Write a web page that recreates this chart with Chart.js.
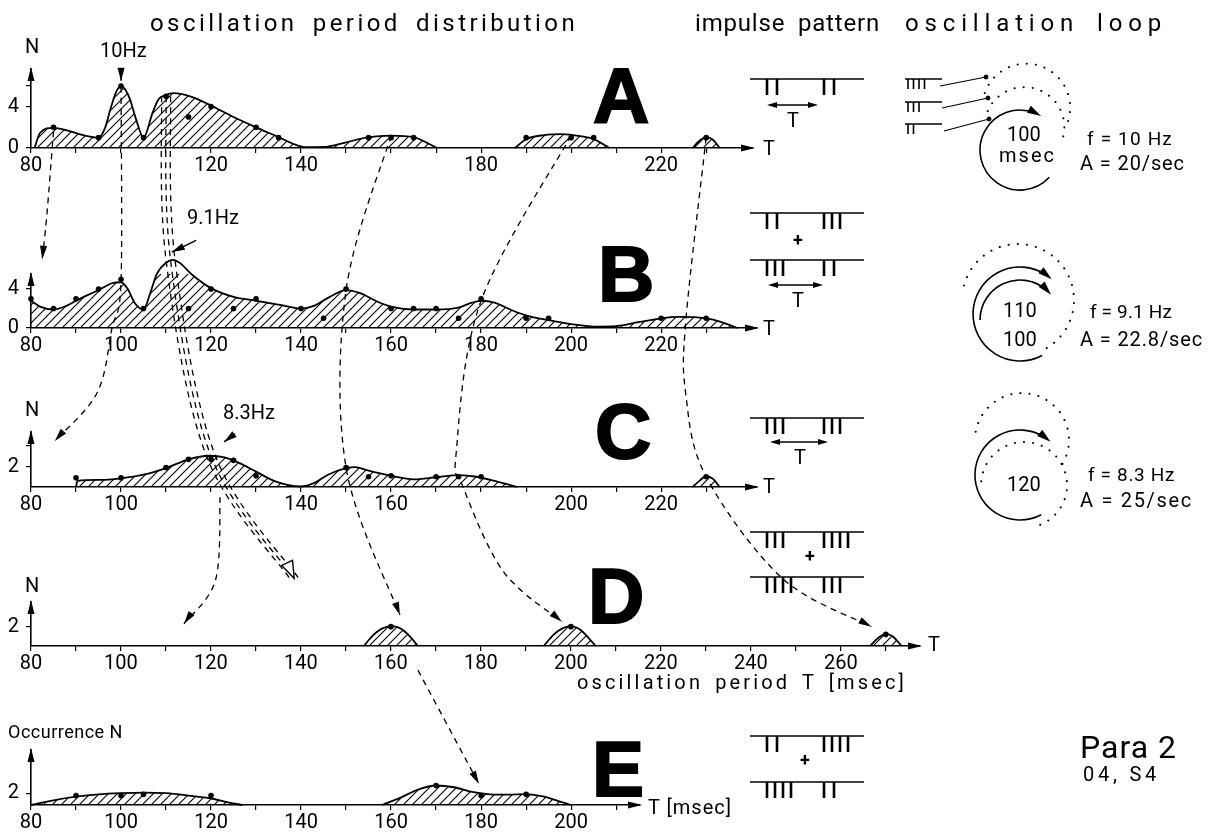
<!DOCTYPE html>
<html>
<head>
<meta charset="utf-8">
<title>oscillation period distribution</title>
<script src="https://cdn.jsdelivr.net/npm/chart.js@4/dist/chart.umd.min.js"></script>
<style>
  html, body { margin: 0; padding: 0; background: #fff; }
  body { position: relative; width: 1209px; height: 834px; overflow: hidden; font-family: Roboto, "DejaVu Sans", sans-serif; color: #000; }
  canvas.panel { position: absolute; left: 0; }
  #links, #sketch { position: absolute; left: 0; top: 0; pointer-events: none; }
  .t { position: absolute; white-space: nowrap; line-height: 1; font-size: 20px; }
  .h { font-size: 24px; word-spacing: 6px; }
  .big { position: absolute; line-height: 1; font-family: "Liberation Sans", Arial, sans-serif; font-weight: bold; font-size: 78px; -webkit-text-stroke: 2px #000; }
</style>
</head>
<body>
<canvas id="pA" class="panel" width="800" height="130" style="top:50px"></canvas>
<canvas id="pB" class="panel" width="800" height="105" style="top:255px"></canvas>
<canvas id="pC" class="panel" width="800" height="106" style="top:413px"></canvas>
<canvas id="pD" class="panel" width="960" height="95" style="top:583px"></canvas>
<canvas id="pE" class="panel" width="700" height="106" style="top:731px"></canvas>
<svg id="sketch" width="1209" height="834"></svg>
<canvas id="links" width="1209" height="834"></canvas>

<div class="t h" data-w="428" style="left:150px;top:11px">oscillation period distribution</div>
<div class="t h" data-w="185" style="left:695px;top:11px">impulse pattern</div>
<div class="t h" data-w="262" style="left:905px;top:11px">oscillation loop</div>

<div class="t" style="left:25px;top:36px">N</div>
<div class="t" style="left:100px;top:40px">10Hz</div>
<div class="t" style="left:187px;top:207px">9.1Hz</div>
<div class="t" style="left:223px;top:402px">8.3Hz</div>
<div class="t" style="left:25px;top:399px">N</div>
<div class="t" style="left:25px;top:575px">N</div>
<div class="t" style="left:8px;top:723px;font-size:18px;letter-spacing:0.5px">Occurrence N</div>

<div class="t" style="left:763px;top:138px">T</div>
<div class="t" style="left:763px;top:318px">T</div>
<div class="t" style="left:763px;top:476px">T</div>
<div class="t" style="left:928px;top:634px">T</div>
<div class="t" style="left:648px;top:797px;letter-spacing:1px">T [msec]</div>
<div class="t" data-w="330" style="left:577px;top:672px;word-spacing:4px">oscillation period T [msec]</div>

<div class="big" style="left:593px;top:57px">A</div>
<div class="big" style="left:598px;top:235px">B</div>
<div class="big" style="left:595px;top:392px">C</div>
<div class="big" style="left:588px;top:557px">D</div>
<div class="big" style="left:592px;top:730px">E</div>

<div class="t" style="left:787px;top:110px">T</div>
<div class="t" style="left:792px;top:290px">T</div>
<div class="t" style="left:794px;top:447px">T</div>
<div class="t" style="left:793px;top:231px;font-weight:bold;font-size:18px">+</div>
<div class="t" style="left:805px;top:547px;font-weight:bold;font-size:18px">+</div>
<div class="t" style="left:800px;top:751px;font-weight:bold;font-size:18px">+</div>

<div class="t" style="left:1007px;top:124px">100</div>
<div class="t" data-w="57" style="left:999px;top:145px">msec</div>
<div class="t" data-w="86" style="left:1087px;top:129px;font-size:19px">f = 10 Hz</div>
<div class="t" data-w="105" style="left:1080px;top:153px">A = 20/sec</div>
<div class="t" style="left:1003px;top:300px">110</div>
<div class="t" style="left:1003px;top:329px">100</div>
<div class="t" data-w="82" style="left:1090px;top:302px;font-size:19px">f = 9.1 Hz</div>
<div class="t" data-w="123" style="left:1080px;top:329px">A = 22.8/sec</div>
<div class="t" style="left:1007px;top:474px">120</div>
<div class="t" data-w="87" style="left:1088px;top:465px;font-size:19px">f = 8.3 Hz</div>
<div class="t" data-w="113" style="left:1080px;top:490px">A = 25/sec</div>

<div class="t" data-w="97" style="left:1080px;top:731px;font-size:32px">Para 2</div>
<div class="t" data-w="77" style="left:1083px;top:764px">04, S4</div>

<script>
'use strict';

// ── Values (T in msec, N = occurrence) ──────────────────────────────────────

// A
const A_CURVE_T = [80.8, 82, 85, 88, 92, 95, 96.5, 97.6, 99, 100, 101, 102, 103.4, 105, 107, 108.3, 109.8, 111.6, 116, 120, 125, 130, 135, 138, 141, 145, 150, 155, 160, 165, 168, 170.2, 178, 187.5, 190, 194, 198, 202, 205, 208.5, 218, 227, 228.5, 230, 231.5, 233];
const A_CURVE_N = [0, 1.45, 1.95, 1.7, 1.2, 1.0, 2.0, 3.7, 5.5, 5.95, 5.6, 4.7, 2.7, 1.0, 3.4, 4.7, 5.1, 5.3, 4.9, 4.1, 3.0, 2.0, 1.05, 0.45, 0.08, 0.1, 0.55, 1.05, 1.2, 1.05, 0.5, 0, null, 0, 0.85, 1.25, 1.35, 1.15, 0.85, 0, null, 0, 0.7, 1.05, 0.8, 0];
const A_DOT_T = [85, 95, 100, 105, 110, 115, 120, 130, 135, 155, 160, 165, 190, 200, 205, 230];
const A_DOT_N = [2, 1, 6, 1, 5, 3, 4, 2, 1, 1, 1, 1, 1, 1, 1, 1];

// B
const B_CURVE_T = [80, 82, 85, 88, 90, 95, 98, 100, 101.5, 103, 105, 106.5, 108, 110, 111.5, 113, 116, 120, 125, 130, 135, 140, 143, 146, 150, 153, 157, 160, 165, 170, 175, 178, 180, 183, 187, 190, 195, 200, 205, 210, 215, 220, 224, 228, 231, 234, 237];
const B_CURVE_N = [2.8, 2.2, 1.9, 2.3, 2.8, 3.9, 4.6, 4.7, 4.0, 2.6, 1.9, 3.6, 5.6, 6.7, 7.0, 6.7, 5.4, 4.1, 3.2, 2.8, 2.4, 2.0, 2.3, 3.1, 3.9, 3.6, 2.7, 2.2, 1.9, 1.9, 2.1, 2.6, 2.8, 2.6, 1.8, 1.3, 0.8, 0.4, 0.15, 0.2, 0.6, 1.0, 1.15, 1.1, 0.9, 0.5, 0];
const B_DOT_T = [80, 85, 90, 95, 100, 105, 110, 115, 120, 125, 130, 140, 145, 150, 160, 165, 170, 175, 180, 190, 195, 220, 230];
const B_DOT_N = [3, 2, 3, 4, 5, 2, 7, 2, 4, 2, 3, 2, 1, 4, 2, 2, 2, 1, 3, 1, 1, 1, 1];

// C
const C_CURVE_T = [90, 90.3, 95, 100, 105, 110, 115, 119.5, 123, 126, 130, 134, 137, 140, 143, 146, 150, 152, 155, 160, 165, 170, 175, 179, 183, 188, 208, 227, 228.5, 230, 231.5, 233];
const C_CURVE_N = [0, 0.6, 0.7, 0.85, 1.2, 1.85, 2.7, 3.05, 2.9, 2.4, 1.5, 0.6, 0.2, 0.05, 0.4, 1.2, 1.85, 1.95, 1.6, 1.1, 0.75, 0.95, 1.15, 1.0, 0.6, 0, null, 0, 0.6, 1.05, 0.8, 0];
const C_DOT_T = [90, 100, 110, 115, 120, 125, 130, 150, 155, 160, 170, 175, 180, 230];
const C_DOT_N = [0.9, 0.9, 1.9, 2.7, 2.7, 2.6, 1.1, 1.9, 1.0, 1.1, 1.0, 1.0, 1.0, 1.0];

// D
const D_CURVE_T = [154, 156, 158, 160, 162, 164, 166, 180, 194, 196, 198, 200, 202, 204, 205.5, 240, 266.5, 268.5, 270, 271.5, 273.5];
const D_CURVE_N = [0, 1.1, 1.8, 2.05, 1.85, 1.1, 0, null, 0, 1.1, 1.8, 2.05, 1.7, 0.8, 0, null, 0, 0.9, 1.25, 1.0, 0];
const D_DOT_T = [160, 200, 270];
const D_DOT_N = [2, 2, 1.2];

// E
const E_CURVE_T = [80, 85, 90, 95, 100, 105, 110, 115, 120, 124, 127, 140, 158, 162, 166, 170, 174, 178, 182, 186, 190, 194, 197, 200];
const E_CURVE_N = [0, 0.8, 1.4, 1.8, 2.0, 2.1, 2.0, 1.6, 1.1, 0.4, 0, null, 0, 1.2, 2.6, 3.3, 3.0, 2.2, 1.8, 1.75, 1.85, 1.4, 0.7, 0];
const E_DOT_T = [90, 100, 105, 120, 170, 180, 190];
const E_DOT_N = [1.6, 1.6, 1.8, 1.6, 3.3, 1.6, 1.8];

// Axis ticks and labels
const T_TICKS     = [80, 90, 100, 110, 120, 130, 140, 150, 160, 170, 180, 190, 200, 210, 220, 230];
const D_T_TICKS   = [80, 90, 100, 110, 120, 130, 140, 150, 160, 170, 180, 190, 200, 210, 220, 230, 240, 250, 260, 270];
const E_T_TICKS   = [80, 90, 100, 110, 120, 130, 140, 150, 160, 170, 180, 190, 200, 210];
const A_T_LABELS  = [80, 120, 140, 180, 220];
const B_T_LABELS  = [80, 100, 120, 140, 160, 180, 200, 220];
const C_T_LABELS  = [80, 100, 140, 160, 200, 220];
const D_T_LABELS  = [80, 100, 120, 140, 160, 180, 200, 220, 240, 260];
const E_T_LABELS  = [80, 100, 120, 140, 160, 180, 200];
const A_N_TICKS = [0, 4, 6],  A_N_LABELS = [0, 4];
const B_N_TICKS = [0, 4],     B_N_LABELS = [0, 4];
const C_N_TICKS = [2, 4],     C_N_LABELS = [2];
const D_N_TICKS = [2],        D_N_LABELS = [2];
const E_N_TICKS = [2],        E_N_LABELS = [2];

// Dashed connections between peaks: [panel, T, N]
const LINKS = [
  { pts: [['A', 85, 1.6], ['B', 83.5, 11.5], ['B', 82.5, 7.1]], head: 'solid' },
  { pts: [['A', 100, 5.9], ['B', 100, 4.8], ['B', 98, 0], ['C', 94.7, 9.2], ['C', 85.3, 4.5]], head: 'solid' },
  { pts: [['A', 110, 5], ['B', 111, 7], ['C', 120, 3], ['D', 138.5, 7]], head: 'open', triple: true },
  { pts: [['A', 160, 1.2], ['B', 150, 3.9], ['C', 150, 1.9], ['D', 162, 3.2]], head: 'solid' },
  { pts: [['A', 200, 1.2], ['B', 180, 2.8], ['C', 174.5, 3.5], ['C', 176, 0], ['D', 185, 7.7], ['D', 198, 2.5]], head: 'solid' },
  { pts: [['A', 230, 1], ['B', 225.5, 0.8], ['C', 225.5, 9], ['C', 230, 1], ['D', 247, 7], ['D', 266.8, 2.0]], head: 'solid' },
  { pts: [['C', 122, -1], ['D', 121, 6.8], ['D', 114, 2.3]], head: 'solid' },
  { pts: [['D', 166, -2.5], ['E', 179.5, 3.6]], head: 'solid' },
];
const POINTERS = [
  [['A', 100, 7.6], ['A', 100, 6.5]],
  [['B', 116.7, 9], ['B', 111.3, 7.8]],
  [['C', 125.3, 5.2], ['C', 122.9, 4.4]],
];

// Impulse patterns: spikes per group, one entry per line
const PATTERN_A = [[2, 2]];
const PATTERN_B = [[2, 3], [3, 2]];
const PATTERN_C = [[3, 3]];
const PATTERN_D = [[3, 4], [4, 3]];
const PATTERN_E = [[2, 4], [4, 2]];

// ── Text fitting (hand lettering is wide-spaced) ────────────────────────────

document.querySelectorAll('[data-w]').forEach(el => {
  const w = el.getBoundingClientRect().width;
  const n = el.textContent.length;
  el.style.letterSpacing = ((+el.dataset.w - w) / n).toFixed(2) + 'px';
});

// ── Charts ──────────────────────────────────────────────────────────────────

Chart.defaults.font.family = 'Roboto';
Chart.defaults.color = '#000';

function hatchFor(canvas) {
  const tile = document.createElement('canvas');
  tile.width = tile.height = 9;
  const g = tile.getContext('2d');
  g.strokeStyle = '#000';
  g.lineWidth = 1.1;
  g.beginPath();
  g.moveTo(-1, 10); g.lineTo(10, -1);
  g.moveTo(-1, 1);  g.lineTo(1, -1);
  g.moveTo(8, 10);  g.lineTo(10, 8);
  g.stroke();
  return canvas.getContext('2d').createPattern(tile, 'repeat');
}

const axisArrows = {
  id: 'axisArrows',
  afterDraw(chart) {
    const { ctx, chartArea: { left, right, top, bottom } } = chart;
    ctx.save();
    ctx.fillStyle = '#000';
    ctx.beginPath();
    ctx.moveTo(right + 2, bottom); ctx.lineTo(right - 12, bottom - 3.5); ctx.lineTo(right - 12, bottom + 3.5);
    ctx.fill();
    ctx.beginPath();
    ctx.moveTo(left, top - 2); ctx.lineTo(left - 3.5, top + 12); ctx.lineTo(left + 3.5, top + 12);
    ctx.fill();
    ctx.restore();
  }
};

function pairs(ts, ns) { return ts.map((t, i) => ({ x: t, y: ns[i] })); }

function makePanel(p) {
  const canvas = document.getElementById(p.canvas);
  return new Chart(canvas, {
    type: 'line',
    data: {
      datasets: [
        {
          data: pairs(p.curveT, p.curveN),
          borderColor: '#000',
          borderWidth: 1.8,
          backgroundColor: hatchFor(canvas),
          fill: 'origin',
          pointRadius: 0,
          cubicInterpolationMode: 'monotone',
          spanGaps: false,
          clip: false,
        },
        {
          type: 'scatter',
          data: pairs(p.dotT, p.dotN),
          pointRadius: 2.8,
          pointBackgroundColor: '#000',
          pointBorderWidth: 0,
          showLine: false,
          clip: false,
        },
      ],
    },
    options: {
      responsive: false,
      animation: false,
      events: [],
      layout: { padding: { top: p.padTop, right: canvas.width - p.right, left: 0, bottom: 0 } },
      plugins: { legend: { display: false }, tooltip: { enabled: false } },
      scales: {
        x: {
          type: 'linear', min: 80, max: p.xMax,
          afterBuildTicks: s => { s.ticks = p.xTicks.map(v => ({ value: v })); },
          afterFit: s => { s.height = 32; },
          ticks: {
            autoSkip: false, maxRotation: 0, padding: 1,
            font: { size: 20 },
            callback: v => p.xLabels.includes(v) ? String(v) : '',
          },
          grid: { drawOnChartArea: false, drawTicks: true, tickLength: 5, color: '#000', lineWidth: 1.2 },
          border: { display: true, color: '#000', width: 1.6 },
        },
        y: {
          type: 'linear', min: 0, max: p.yMax,
          afterBuildTicks: s => { s.ticks = p.yTicks.map(v => ({ value: v })); },
          afterFit: s => { s.width = p.yWidth; },
          ticks: {
            padding: 7,
            font: { size: 20 },
            callback: v => p.yLabels.includes(v) ? String(v) : '',
          },
          grid: { drawOnChartArea: false, drawTicks: true, tickLength: 5, color: '#000', lineWidth: 1.2 },
          border: { display: true, color: '#000', width: 1.6 },
        },
      },
    },
    plugins: [axisArrows],
  });
}

const charts = {
  A: makePanel({ canvas: 'pA', curveT: A_CURVE_T, curveN: A_CURVE_N, dotT: A_DOT_T, dotN: A_DOT_N,
    xTicks: T_TICKS, xLabels: A_T_LABELS, yTicks: A_N_TICKS, yLabels: A_N_LABELS,
    xMax: 240.4, yMax: 7.64, padTop: 12, right: 753, yWidth: 31 }),
  B: makePanel({ canvas: 'pB', curveT: B_CURVE_T, curveN: B_CURVE_N, dotT: B_DOT_T, dotN: B_DOT_N,
    xTicks: T_TICKS, xLabels: B_T_LABELS, yTicks: B_N_TICKS, yLabels: B_N_LABELS,
    xMax: 241.3, yMax: 5.55, padTop: 12, right: 757, yWidth: 31 }),
  C: makePanel({ canvas: 'pC', curveT: C_CURVE_T, curveN: C_CURVE_N, dotT: C_DOT_T, dotN: C_DOT_N,
    xTicks: T_TICKS, xLabels: C_T_LABELS, yTicks: C_N_TICKS, yLabels: C_N_LABELS,
    xMax: 241.3, yMax: 5.37, padTop: 12, right: 757, yWidth: 31 }),
  D: makePanel({ canvas: 'pD', curveT: D_CURVE_T, curveN: D_CURVE_N, dotT: D_DOT_T, dotN: D_DOT_N,
    xTicks: D_T_TICKS, xLabels: D_T_LABELS, yTicks: D_N_TICKS, yLabels: D_N_LABELS,
    xMax: 277.6, yMax: 4.55, padTop: 12, right: 920, yWidth: 31 }),
  E: makePanel({ canvas: 'pE', curveT: E_CURVE_T, curveN: E_CURVE_N, dotT: E_DOT_T, dotN: E_DOT_N,
    xTicks: E_T_TICKS, xLabels: E_T_LABELS, yTicks: E_N_TICKS, yLabels: E_N_LABELS,
    xMax: 215.3, yMax: 9.3, padTop: 12, right: 640, yWidth: 31 }),
};

// ── Dashed links drawn from the panels' own scales ──────────────────────────

function pagePt([k, t, n]) {
  const ch = charts[k];
  return [ch.canvas.offsetLeft + ch.scales.x.getPixelForValue(t),
          ch.canvas.offsetTop + ch.scales.y.getPixelForValue(n)];
}

function smooth(ctx, pts) {
  ctx.moveTo(pts[0][0], pts[0][1]);
  let c2 = pts[0];
  for (let i = 0; i < pts.length - 1; i++) {
    const p0 = pts[i - 1] || pts[i], p1 = pts[i], p2 = pts[i + 1], p3 = pts[i + 2] || p2;
    const c1 = [p1[0] + (p2[0] - p0[0]) / 6, p1[1] + (p2[1] - p0[1]) / 6];
    c2 = [p2[0] - (p3[0] - p1[0]) / 6, p2[1] - (p3[1] - p1[1]) / 6];
    ctx.bezierCurveTo(c1[0], c1[1], c2[0], c2[1], p2[0], p2[1]);
  }
  return c2;
}

function arrowHead(ctx, tip, from, kind) {
  const a = Math.atan2(tip[1] - from[1], tip[0] - from[0]);
  const len = kind === 'open' ? 17 : 13, w = kind === 'open' ? 6 : 3.6;
  const bx = tip[0] - len * Math.cos(a), by = tip[1] - len * Math.sin(a);
  ctx.beginPath();
  ctx.moveTo(tip[0], tip[1]);
  ctx.lineTo(bx + w * Math.sin(a), by - w * Math.cos(a));
  ctx.lineTo(bx - w * Math.sin(a), by + w * Math.cos(a));
  ctx.closePath();
  if (kind === 'open') { ctx.fillStyle = '#fff'; ctx.fill(); ctx.lineWidth = 1.4; ctx.stroke(); }
  else { ctx.fillStyle = '#000'; ctx.fill(); }
}

(function drawLinks() {
  const ctx = document.getElementById('links').getContext('2d');
  ctx.strokeStyle = '#000';
  LINKS.forEach(link => {
    const pts = link.pts.map(pagePt);
    const offs = link.triple ? [-4.5, 0, 4.5] : [0];
    let ctrl = pts[0];
    offs.forEach(dx => {
      const q = pts.map(p => [p[0] + dx, p[1]]);
      ctx.setLineDash([6, 5]);
      ctx.lineWidth = 1.3;
      ctx.beginPath();
      ctrl = smooth(ctx, q);
      ctx.stroke();
    });
    ctx.setLineDash([]);
    const tip = pts[pts.length - 1];
    const from = Math.hypot(ctrl[0] - tip[0], ctrl[1] - tip[1]) > 1 ? ctrl : pts[pts.length - 2];
    arrowHead(ctx, tip, from, link.head);
  });
  POINTERS.forEach(([a, b]) => {
    const p = pagePt(a), q = pagePt(b);
    ctx.lineWidth = 1.5;
    ctx.beginPath(); ctx.moveTo(p[0], p[1]); ctx.lineTo(q[0], q[1]); ctx.stroke();
    arrowHead(ctx, q, p, 'solid');
  });
})();

// ── Impulse patterns and oscillation loops (schematic) ──────────────────────

function impulseLines(rows, ys) {
  let s = '';
  rows.forEach((groups, r) => {
    const y = ys[r];
    s += `<line x1="750" y1="${y}" x2="864" y2="${y}" stroke-width="1.5"/>`;
    const starts = [767, 824];
    groups.forEach((cnt, g) => {
      const step = cnt > 2 ? 8 : 10;
      for (let i = 0; i < cnt; i++) {
        const x = starts[g] + i * step;
        s += `<line x1="${x}" y1="${y}" x2="${x}" y2="${y + 16}" stroke-width="2.6"/>`;
      }
    });
  });
  return s;
}

function tMarker(y, x0, x1) {
  return `<line x1="${x0 + 6}" y1="${y}" x2="${x1 - 6}" y2="${y}" stroke-width="1.3"/>` +
    `<polygon points="${x0},${y} ${x0 + 10},${y - 3} ${x0 + 10},${y + 3}" fill="#000" stroke="none"/>` +
    `<polygon points="${x1},${y} ${x1 - 10},${y - 3} ${x1 - 10},${y + 3}" fill="#000" stroke="none"/>`;
}

function arcPath(cx, cy, r, a0, a1) {
  const p = a => [cx + r * Math.cos(a * Math.PI / 180), cy + r * Math.sin(a * Math.PI / 180)];
  const [x0, y0] = p(a0), [x1, y1] = p(a1);
  const large = (a1 - a0) > 180 ? 1 : 0;
  return `M${x0.toFixed(1)} ${y0.toFixed(1)} A${r} ${r} 0 ${large} 1 ${x1.toFixed(1)} ${y1.toFixed(1)}`;
}

function loopArc(cx, cy, r, a0, a1) {
  const rad = a1 * Math.PI / 180;
  const tx = cx + r * Math.cos(rad), ty = cy + r * Math.sin(rad);
  const dx = -Math.sin(rad), dy = Math.cos(rad);
  const bx = tx - 12 * dx, by = ty - 12 * dy;
  return `<path d="${arcPath(cx, cy, r, a0, a1 - 8)}" fill="none" stroke-width="1.6"/>` +
    `<polygon points="${(tx + 2 * dx).toFixed(1)},${(ty + 2 * dy).toFixed(1)} ${(bx - 4 * dy).toFixed(1)},${(by + 4 * dx).toFixed(1)} ${(bx + 4 * dy).toFixed(1)},${(by - 4 * dx).toFixed(1)}" fill="#000" stroke="none"/>`;
}

function dotted(cx, cy, r, a0, a1) {
  return `<path d="${arcPath(cx, cy, r, a0, a1)}" fill="none" stroke-width="2" stroke-linecap="round" stroke-dasharray="0.1 9"/>`;
}

function miniRow(y, cnt) {
  let s = `<line x1="905" y1="${y}" x2="942" y2="${y}" stroke-width="1.3"/>`;
  for (let i = 0; i < cnt; i++) {
    const x = 908 + i * 5.5;
    s += `<line x1="${x}" y1="${y}" x2="${x}" y2="${y + 10}" stroke-width="1.6"/>`;
  }
  return s;
}

(function drawSketch() {
  let s = '<g stroke="#000">';
  s += impulseLines(PATTERN_A, [79]);
  s += impulseLines(PATTERN_B, [213, 260]);
  s += impulseLines(PATTERN_C, [418]);
  s += impulseLines(PATTERN_D, [532, 577]);
  s += impulseLines(PATTERN_E, [736, 782]);
  s += tMarker(105, 767, 818) + tMarker(285, 768, 823) + tMarker(442, 770, 828);

  // loop A
  s += miniRow(79, 4) + miniRow(102, 3) + miniRow(124, 2);
  s += '<line x1="940" y1="86" x2="986" y2="77" stroke-width="1.2"/><line x1="942" y1="108" x2="988" y2="98" stroke-width="1.2"/><line x1="944" y1="131" x2="989" y2="119" stroke-width="1.2"/>';
  s += '<circle cx="986" cy="77" r="2" fill="#000"/><circle cx="988" cy="98" r="2" fill="#000"/><circle cx="989" cy="119" r="2" fill="#000"/>';
  s += loopArc(1020, 150, 40, 43, 299);
  s += dotted(1026, 108, 44, 200, 385) + dotted(1024, 128, 40, 205, 380);

  // loop B
  s += loopArc(1020, 314, 47, 62, 310);
  s += loopArc(1020, 320, 40, 180, 318);
  s += dotted(1018, 300, 56, 195, 420);

  // loop C
  s += loopArc(1020, 475, 45, 62, 310);
  s += dotted(1022, 440, 47, 190, 395) + dotted(1024, 485, 43, 185, 430);
  s += '</g>';
  document.getElementById('sketch').innerHTML = s;
})();
</script>
</body>
</html>
